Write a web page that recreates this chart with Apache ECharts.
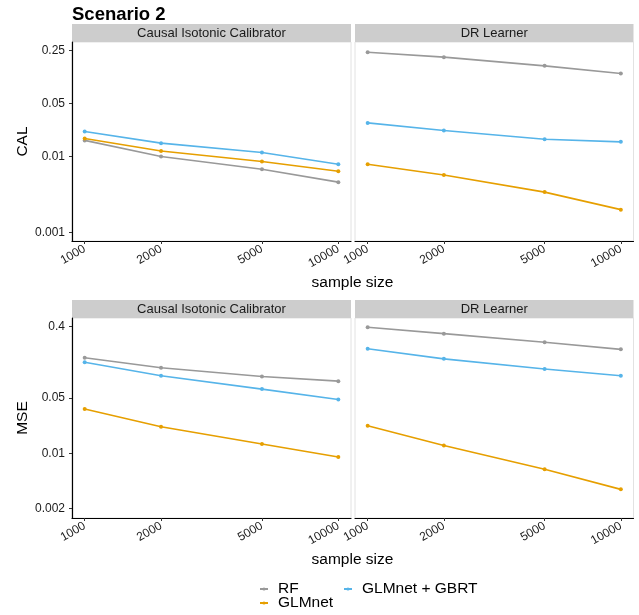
<!DOCTYPE html>
<html><head><meta charset="utf-8">
<script src="https://cdn.jsdelivr.net/npm/echarts@6/dist/echarts.min.js"></script>
<style>html,body{margin:0;padding:0;background:#fff}#c{width:639px;height:615px}</style>
</head><body><div id="c"></div>
<script>
// ---------- data ----------
const sampleSizes = [1000, 2000, 5000, 10000];
const xTicks = [1000, 2000, 5000, 10000];
const calTicks = [0.001, 0.01, 0.05, 0.25];
const mseTicks = [0.002, 0.01, 0.05, 0.4];
const calLimits = [0.000773, 0.3214];
const mseLimits = [0.00152, 0.516];
const methods = ['RF', 'GLMnet', 'GLMnet + GBRT'];
const facets = ['Causal Isotonic Calibrator', 'DR Learner'];
const metrics = ['CAL', 'MSE'];

// CAL
const calCIC_RF     = [0.0163, 0.0100, 0.0068, 0.0046];
const calCIC_GLMnet = [0.0173, 0.0118, 0.0086, 0.0064];
const calCIC_GBRT   = [0.0213, 0.0150, 0.0113, 0.0079];
const calDR_RF      = [0.236, 0.203, 0.156, 0.124];
const calDR_GLMnet  = [0.0079, 0.0057, 0.0034, 0.0020];
const calDR_GBRT    = [0.0277, 0.0220, 0.0169, 0.0156];
// MSE
const mseCIC_RF     = [0.162, 0.121, 0.094, 0.082];
const mseCIC_GLMnet = [0.0364, 0.0217, 0.0131, 0.0090];
const mseCIC_GBRT   = [0.142, 0.096, 0.065, 0.048];
const mseDR_RF      = [0.394, 0.327, 0.254, 0.207];
const mseDR_GLMnet  = [0.0223, 0.0126, 0.0063, 0.0035];
const mseDR_GBRT    = [0.211, 0.157, 0.117, 0.096];

const colors = ['#999999', '#E69F00', '#56B4E9'];

// ---------- layout ----------
const FONT = 'Liberation Sans, Arial, Helvetica, sans-serif';
const panels = [
  {left: 72,  top: 42,  width: 279,   height: 199, facet: 0, metric: 0, values: [calCIC_RF, calCIC_GLMnet, calCIC_GBRT]},
  {left: 355, top: 42,  width: 278.5, height: 199, facet: 1, metric: 0, values: [calDR_RF, calDR_GLMnet, calDR_GBRT]},
  {left: 72,  top: 318, width: 279,   height: 200, facet: 0, metric: 1, values: [mseCIC_RF, mseCIC_GLMnet, mseCIC_GBRT]},
  {left: 355, top: 318, width: 278.5, height: 200, facet: 1, metric: 1, values: [mseDR_RF, mseDR_GLMnet, mseDR_GBRT]}
];
const L = Math.log10;
const xLo = L(sampleSizes[0]), xHi = L(sampleSizes[sampleSizes.length - 1]);
const xPad = 0.05 * (xHi - xLo);

function fmtFrom(ticks) {
  return function (v) {
    for (const t of ticks) if (Math.abs(L(t) - v) < 1e-6) return String(t);
    return '';
  };
}

const grid = [], xAxis = [], yAxis = [], series = [], graphic = [];
panels.forEach((p, i) => {
  grid.push({left: p.left, top: p.top, width: p.width, height: p.height,
    show: true, borderColor: '#E2E2E2', borderWidth: 1, backgroundColor: '#fff'});
  xAxis.push({
    type: 'value', gridIndex: i, min: xLo - xPad, max: xHi + xPad,
    axisLine: {show: true, onZero: false, lineStyle: {color: '#000', width: 1.2}},
    axisTick: {show: true, customValues: xTicks.map(L), length: 3, lineStyle: {color: '#333'}},
    axisLabel: {customValues: xTicks.map(L), formatter: fmtFrom(xTicks), rotate: 30, margin: 7,
      fontSize: 12, color: '#1a1a1a', fontFamily: FONT},
    splitLine: {show: false}
  });
  const ticks = p.metric === 0 ? calTicks : mseTicks;
  const lim = p.metric === 0 ? calLimits : mseLimits;
  const isLeft = p.facet === 0;
  yAxis.push({
    type: 'value', gridIndex: i, min: L(lim[0]), max: L(lim[1]),
    name: isLeft ? metrics[p.metric] : '', nameLocation: 'middle', nameGap: 41,
    nameTextStyle: {fontSize: 15.5, color: '#000', fontFamily: FONT},
    axisLine: {show: isLeft, onZero: false, lineStyle: {color: '#000', width: 1.2}},
    axisTick: {show: isLeft, customValues: ticks.map(L), length: 3, lineStyle: {color: '#333'}},
    axisLabel: {show: isLeft, customValues: ticks.map(L), formatter: fmtFrom(ticks), margin: 7,
      fontSize: 12, color: '#1a1a1a', fontFamily: FONT},
    splitLine: {show: false}
  });
  methods.forEach((m, k) => {
    series.push({
      type: 'line', name: m, xAxisIndex: i, yAxisIndex: i,
      data: sampleSizes.map((n, j) => [L(n), L(p.values[k][j])]),
      symbol: 'circle', symbolSize: 4, showSymbol: true,
      color: colors[k], lineStyle: {width: 1.6, color: colors[k]},
      itemStyle: {color: colors[k]}, emphasis: {disabled: true}, z: 3 + k
    });
  });
  // strip
  graphic.push({type: 'rect', shape: {x: p.left, y: p.top - 18, width: p.width, height: 18},
    style: {fill: '#CDCDCD'}, silent: true});
  graphic.push({type: 'text', x: p.left + p.width / 2, y: p.top - 9,
    style: {text: facets[p.facet], fill: '#1a1a1a', font: '13px ' + FONT, align: 'center', verticalAlign: 'middle'}, silent: true});
});

// title and x-axis titles
graphic.push({type: 'text', x: 72, y: 15,
  style: {text: 'Scenario 2', fill: '#000', font: 'bold 18.5px ' + FONT, align: 'left', verticalAlign: 'middle'}});
graphic.push({type: 'text', x: 352.5, y: 283,
  style: {text: 'sample size', fill: '#000', font: '15.5px ' + FONT, align: 'center', verticalAlign: 'middle'}});
graphic.push({type: 'text', x: 352.5, y: 560,
  style: {text: 'sample size', fill: '#000', font: '15.5px ' + FONT, align: 'center', verticalAlign: 'middle'}});

const legendBase = {itemWidth: 8, itemHeight: 4, itemGap: 0, padding: 0,
  textStyle: {fontSize: 15.5, color: '#000', fontFamily: FONT, padding: [0, 0, 0, 5]}, selectedMode: false};
const legend = [
  Object.assign({}, legendBase, {data: ['RF'], left: 259, top: 581}),
  Object.assign({}, legendBase, {data: ['GLMnet'], left: 259, top: 595}),
  Object.assign({}, legendBase, {data: ['GLMnet + GBRT'], left: 343, top: 581})
];

const chart = echarts.init(document.getElementById('c'), null, {renderer: 'canvas'});
chart.setOption({
  animation: false, backgroundColor: '#fff',
  grid, xAxis, yAxis, series, legend, graphic
});
</script></body></html>
